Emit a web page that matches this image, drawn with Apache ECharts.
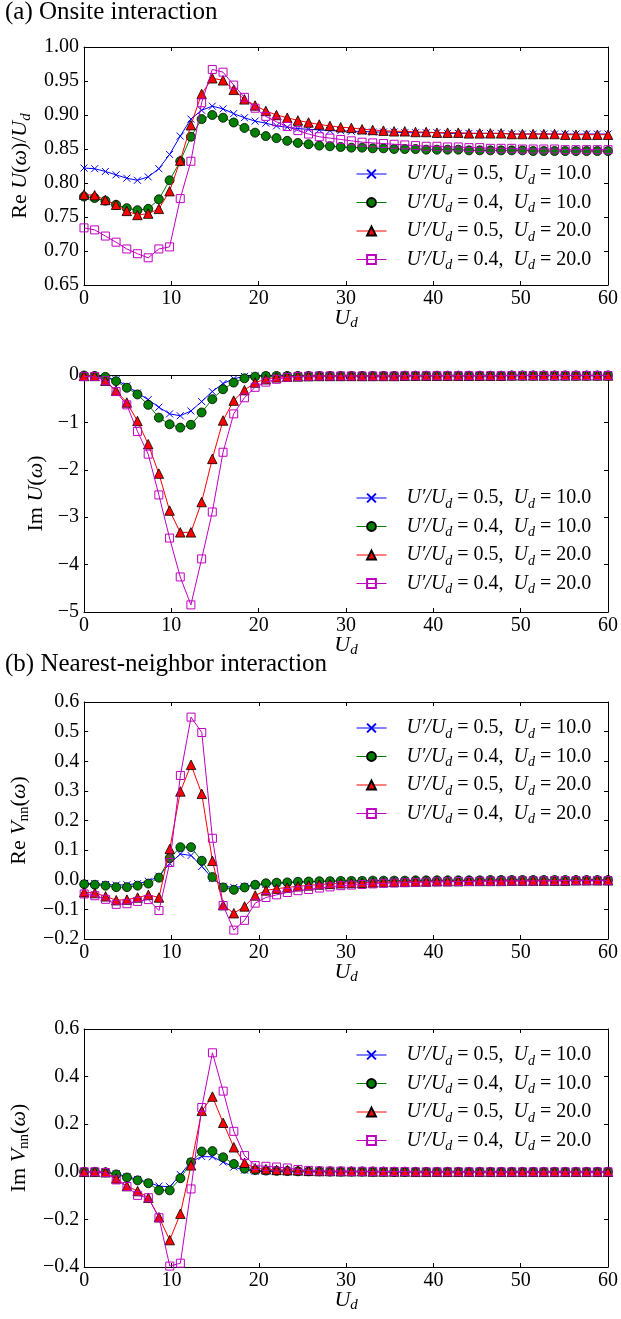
<!DOCTYPE html>
<html>
<head>
<meta charset="utf-8">
<script src="https://cdn.jsdelivr.net/npm/echarts@6/dist/echarts.min.js"></script>
<style>
  html, body { margin: 0; padding: 0; background: #fff; }
  #chart { width: 621px; height: 1319px; }
</style>
</head>
<body>
<div id="chart"></div>
<script>
// Bare onsite energy U_d (x values shared by all panels)
const Ud = [
  0.00, 1.22, 2.45, 3.67, 4.90, 6.12, 7.35, 8.57, 9.80, 11.02,
  12.24, 13.47, 14.69, 15.92, 17.14, 18.37, 19.59, 20.82, 22.04, 23.27,
  24.49, 25.71, 26.94, 28.16, 29.39, 30.61, 31.84, 33.06, 34.29, 35.51,
  36.73, 37.96, 39.18, 40.41, 41.63, 42.86, 44.08, 45.31, 46.53, 47.76,
  48.98, 50.20, 51.43, 52.65, 53.88, 55.10, 56.33, 57.55, 58.78, 60.00
];

// (a) Re U(w)/U_d
const reU_05_10 = [
  0.822, 0.821, 0.817, 0.812, 0.807, 0.804, 0.809, 0.821, 0.842, 0.869,
  0.894, 0.907, 0.913, 0.909, 0.902, 0.896, 0.891, 0.888, 0.884, 0.882,
  0.880, 0.879, 0.878, 0.877, 0.877, 0.876, 0.876, 0.875, 0.875, 0.875,
  0.874, 0.874, 0.874, 0.874, 0.873, 0.873, 0.873, 0.873, 0.873, 0.873,
  0.872, 0.872, 0.872, 0.872, 0.872, 0.872, 0.872, 0.872, 0.872, 0.872
];
const reU_04_10 = [
  0.780, 0.778, 0.774, 0.768, 0.763, 0.760, 0.762, 0.776, 0.804, 0.832,
  0.868, 0.894, 0.900, 0.896, 0.889, 0.881, 0.874, 0.869, 0.866, 0.862,
  0.859, 0.857, 0.855, 0.854, 0.853, 0.852, 0.852, 0.851, 0.851, 0.850,
  0.850, 0.850, 0.849, 0.849, 0.849, 0.849, 0.848, 0.848, 0.848, 0.848,
  0.848, 0.848, 0.847, 0.847, 0.847, 0.847, 0.847, 0.847, 0.847, 0.847
];
const reU_05_20 = [
  0.783, 0.782, 0.775, 0.768, 0.759, 0.753, 0.755, 0.762, 0.788, 0.833,
  0.885, 0.931, 0.954, 0.951, 0.937, 0.923, 0.914, 0.906, 0.900, 0.896,
  0.892, 0.889, 0.886, 0.884, 0.882, 0.881, 0.879, 0.878, 0.877, 0.876,
  0.876, 0.875, 0.875, 0.874, 0.874, 0.874, 0.873, 0.873, 0.873, 0.873,
  0.872, 0.872, 0.872, 0.872, 0.872, 0.871, 0.871, 0.871, 0.871, 0.871
];
const reU_04_20 = [
  0.734, 0.731, 0.722, 0.713, 0.703, 0.696, 0.690, 0.703, 0.706, 0.777,
  0.832, 0.918, 0.967, 0.963, 0.944, 0.926, 0.910, 0.898, 0.890, 0.883,
  0.877, 0.872, 0.868, 0.866, 0.864, 0.862, 0.860, 0.859, 0.858, 0.857,
  0.856, 0.855, 0.854, 0.854, 0.853, 0.853, 0.852, 0.852, 0.851, 0.851,
  0.851, 0.850, 0.850, 0.850, 0.850, 0.849, 0.849, 0.849, 0.849, 0.849
];

// (a) Im U(w)
const imU_05_10 = [
  -0.02, -0.03, -0.05, -0.10, -0.23, -0.38, -0.52, -0.68, -0.82, -0.86,
  -0.76, -0.56, -0.35, -0.18, -0.08, -0.03, -0.02, -0.02, -0.02, -0.02,
  -0.02, -0.02, -0.02, -0.02, -0.02, -0.02, -0.02, -0.02, -0.02, -0.02,
  -0.015, -0.015, -0.015, -0.015, -0.015, -0.015, -0.015, -0.015, -0.015, -0.015,
  -0.01, -0.01, -0.01, -0.01, -0.01, -0.01, -0.01, -0.01, -0.01, -0.01
];
const imU_04_10 = [
  -0.01, -0.02, -0.04, -0.13, -0.27, -0.41, -0.63, -0.90, -1.04, -1.11,
  -1.05, -0.79, -0.51, -0.30, -0.16, -0.07, -0.035, -0.02, -0.02, -0.02,
  -0.02, -0.02, -0.02, -0.02, -0.02, -0.02, -0.02, -0.02, -0.02, -0.02,
  -0.015, -0.015, -0.015, -0.015, -0.015, -0.015, -0.015, -0.015, -0.015, -0.015,
  -0.01, -0.01, -0.01, -0.01, -0.01, -0.01, -0.01, -0.01, -0.01, -0.01
];
const imU_05_20 = [
  -0.02, -0.02, -0.12, -0.33, -0.58, -0.97, -1.46, -2.08, -2.86, -3.32,
  -3.32, -2.68, -1.77, -0.96, -0.54, -0.32, -0.16, -0.09, -0.05, -0.035,
  -0.03, -0.025, -0.02, -0.02, -0.02, -0.02, -0.02, -0.02, -0.02, -0.02,
  -0.015, -0.015, -0.015, -0.015, -0.015, -0.015, -0.015, -0.015, -0.015, -0.015,
  -0.01, -0.01, -0.01, -0.01, -0.01, -0.01, -0.01, -0.01, -0.01, -0.01
];
const imU_04_20 = [
  -0.03, -0.03, -0.12, -0.35, -0.63, -1.19, -1.67, -2.53, -3.44, -4.26,
  -4.85, -3.88, -2.89, -1.63, -0.82, -0.48, -0.26, -0.15, -0.09, -0.05,
  -0.03, -0.025, -0.02, -0.02, -0.02, -0.02, -0.02, -0.02, -0.02, -0.02,
  -0.015, -0.015, -0.015, -0.015, -0.015, -0.015, -0.015, -0.015, -0.015, -0.015,
  -0.01, -0.01, -0.01, -0.01, -0.01, -0.01, -0.01, -0.01, -0.01, -0.01
];

// (b) Re V_nn(w)
const reV_05_10 = [
  -0.012, -0.013, -0.016, -0.018, -0.017, -0.013, -0.005, 0.012, 0.055, 0.087,
  0.082, 0.045, 0.005, -0.022, -0.026, -0.022, -0.018, -0.015, -0.012, -0.010,
  -0.008, -0.007, -0.006, -0.005, -0.005, -0.004, -0.004, -0.004, -0.003, -0.003,
  -0.003, -0.003, -0.002, -0.002, -0.002, -0.002, -0.002, -0.002, -0.001, -0.001,
  -0.001, -0.001, -0.001, -0.001, -0.001, -0.001, -0.001, -0.001, -0.001, -0.001
];
const reV_04_10 = [
  -0.015, -0.017, -0.020, -0.025, -0.025, -0.020, -0.013, 0.007, 0.073, 0.110,
  0.110, 0.064, 0.009, -0.026, -0.034, -0.026, -0.017, -0.012, -0.010, -0.009,
  -0.007, -0.006, -0.005, -0.005, -0.004, -0.004, -0.004, -0.003, -0.003, -0.003,
  -0.003, -0.002, -0.002, -0.002, -0.002, -0.002, -0.002, -0.002, -0.001, -0.001,
  -0.001, -0.001, -0.001, -0.001, -0.001, -0.001, -0.001, -0.001, -0.001, -0.001
];
const reV_05_20 = [
  -0.042, -0.045, -0.056, -0.069, -0.067, -0.060, -0.051, -0.060, 0.104, 0.298,
  0.388, 0.290, 0.064, -0.086, -0.113, -0.090, -0.053, -0.036, -0.030, -0.026,
  -0.022, -0.019, -0.016, -0.014, -0.012, -0.011, -0.010, -0.009, -0.008, -0.007,
  -0.007, -0.006, -0.006, -0.005, -0.005, -0.005, -0.004, -0.004, -0.004, -0.004,
  -0.003, -0.003, -0.003, -0.003, -0.003, -0.003, -0.002, -0.002, -0.002, -0.002
];
const reV_04_20 = [
  -0.048, -0.054, -0.066, -0.083, -0.081, -0.073, -0.067, -0.104, 0.058, 0.352,
  0.549, 0.497, 0.140, -0.087, -0.170, -0.137, -0.079, -0.060, -0.051, -0.043,
  -0.037, -0.033, -0.028, -0.024, -0.020, -0.018, -0.016, -0.014, -0.012, -0.011,
  -0.010, -0.009, -0.008, -0.007, -0.007, -0.006, -0.006, -0.005, -0.005, -0.005,
  -0.004, -0.004, -0.004, -0.004, -0.003, -0.003, -0.003, -0.003, -0.003, -0.003
];

// (b) Im V_nn(w)
const imV_05_10 = [
  0.000, 0.000, -0.002, -0.008, -0.020, -0.032, -0.045, -0.060, -0.063, -0.012,
  0.043, 0.064, 0.063, 0.041, 0.020, 0.007, 0.002, 0.001, 0.001, 0.000,
  0.000, 0.000, 0.000, 0.000, 0.000, 0.000, 0.000, 0.000, 0.000, 0.000,
  0.000, 0.000, 0.000, 0.000, 0.000, 0.000, 0.000, 0.000, 0.000, 0.000,
  0.000, 0.000, 0.000, 0.000, 0.000, 0.000, 0.000, 0.000, 0.000, 0.000
];
const imV_04_10 = [
  0.000, 0.000, -0.002, -0.011, -0.024, -0.036, -0.048, -0.078, -0.078, -0.027,
  0.040, 0.085, 0.087, 0.061, 0.033, 0.013, 0.007, 0.005, 0.004, 0.003,
  0.002, 0.002, 0.002, 0.001, 0.001, 0.001, 0.001, 0.001, 0.001, 0.000,
  0.000, 0.000, 0.000, 0.000, 0.000, 0.000, 0.000, 0.000, 0.000, 0.000,
  0.000, 0.000, 0.000, 0.000, 0.000, 0.000, 0.000, 0.000, 0.000, 0.000
];
const imV_05_20 = [
  0.000, 0.000, -0.002, -0.028, -0.060, -0.081, -0.109, -0.191, -0.287, -0.176,
  0.027, 0.256, 0.316, 0.206, 0.103, 0.038, 0.015, 0.011, 0.008, 0.007,
  0.006, 0.004, 0.003, 0.003, 0.002, 0.002, 0.002, 0.001, 0.001, 0.001,
  0.001, 0.000, 0.000, 0.000, 0.000, 0.000, 0.000, 0.000, 0.000, 0.000,
  0.000, 0.000, 0.000, 0.000, 0.000, 0.000, 0.000, 0.000, 0.000, 0.000
];
const imV_04_20 = [
  0.000, 0.000, -0.003, -0.034, -0.062, -0.099, -0.109, -0.193, -0.396, -0.384,
  -0.072, 0.270, 0.500, 0.339, 0.170, 0.068, 0.026, 0.023, 0.020, 0.016,
  0.010, 0.006, 0.004, 0.003, 0.003, 0.002, 0.002, 0.002, 0.001, 0.001,
  0.001, 0.000, 0.000, 0.000, 0.000, 0.000, 0.000, 0.000, 0.000, 0.000,
  0.000, 0.000, 0.000, 0.000, 0.000, 0.000, 0.000, 0.000, 0.000, 0.000
];

// Axis ranges and tick steps
const xRange = { min: 0, max: 60, interval: 10 };
const yRanges = [
  { min: 0.65, max: 1.00, interval: 0.05, digits: 2 },
  { min: -5, max: 0, interval: 1, digits: 0 },
  { min: -0.2, max: 0.6, interval: 0.1, digits: 1 },
  { min: -0.4, max: 0.6, interval: 0.2, digits: 1 }
];

// Series names and their legend markup
const seriesNames = [
  "U′/Ud = 0.5, Ud = 10.0",
  "U′/Ud = 0.4, Ud = 10.0",
  "U′/Ud = 0.5, Ud = 20.0",
  "U′/Ud = 0.4, Ud = 20.0"
];
const legendMarkup = {
  "U′/Ud = 0.5, Ud = 10.0": "{sp| }{i|U′/U}{s|d}{n| = 0.5,  }{i|U}{s|d}{n| = 10.0}",
  "U′/Ud = 0.4, Ud = 10.0": "{sp| }{i|U′/U}{s|d}{n| = 0.4,  }{i|U}{s|d}{n| = 10.0}",
  "U′/Ud = 0.5, Ud = 20.0": "{sp| }{i|U′/U}{s|d}{n| = 0.5,  }{i|U}{s|d}{n| = 20.0}",
  "U′/Ud = 0.4, Ud = 20.0": "{sp| }{i|U′/U}{s|d}{n| = 0.4,  }{i|U}{s|d}{n| = 20.0}"
};
const yNames = [
  "{n|Re }{i|U}{n|(}{i|ω}{n|)/}{i|U}{s|d}",
  "{n|Im }{i|U}{n|(}{i|ω}{n|)}",
  "{n|Re }{i|V}{sr|nn}{n|(}{i|ω}{n|)}",
  "{n|Im }{i|V}{sr|nn}{n|(}{i|ω}{n|)}"
];
const panelData = [
  [reU_05_10, reU_04_10, reU_05_20, reU_04_20],
  [imU_05_10, imU_04_10, imU_05_20, imU_04_20],
  [reV_05_10, reV_04_10, reV_05_20, reV_04_20],
  [imV_05_10, imV_04_10, imV_05_20, imV_04_20]
];

// ---- layout & styling ----
const FONT = "Liberation Serif";
const plotLeft = 84, plotWidth = 621 - 84 - 11;
const panels = [
  { top: 47, height: 238, legendTop: 164, nameGap: 41 },
  { top: 375, height: 237, legendTop: 488, nameGap: 34 },
  { top: 702, height: 237, legendTop: 718, nameGap: 51 },
  { top: 1029, height: 238, legendTop: 1045, nameGap: 51 }
];

const rich = {
  n: { fontFamily: FONT, fontSize: 20, lineHeight: 26, color: "#000" },
  i: { fontFamily: FONT, fontSize: 20, fontStyle: "italic", lineHeight: 26, color: "#000" },
  s: { fontFamily: FONT, fontSize: 14, fontStyle: "italic", lineHeight: 14, verticalAlign: "bottom", color: "#000" },
  sr: { fontFamily: FONT, fontSize: 14, lineHeight: 14, verticalAlign: "bottom", color: "#000" },
  sp: { fontFamily: FONT, fontSize: 20, width: 15, lineHeight: 26 }
};
const richName = {
  n: Object.assign({}, rich.n, { fontSize: 22 }),
  i: Object.assign({}, rich.i, { fontSize: 22 }),
  s: Object.assign({}, rich.s, { fontSize: 15, lineHeight: 15 }),
  sr: Object.assign({}, rich.sr, { fontSize: 15, lineHeight: 15 })
};

const markers = [
  { color: "#0000ff", symbol: "path://M0,0L10,10M10,0L0,10", size: 7,
    item: { color: "#0000ff", borderColor: "#0000ff", borderWidth: 1 } },
  { color: "#008000", symbol: "circle", size: 9,
    item: { color: "#008000", borderColor: "#000000", borderWidth: 0.8 } },
  { color: "#ff0000", symbol: "triangle", size: 9.5,
    item: { color: "#ff0000", borderColor: "#000000", borderWidth: 0.8 } },
  { color: "#bf00bf", symbol: "rect", size: 8,
    item: { color: "rgba(255,255,255,0)", borderColor: "#bf00bf", borderWidth: 1 } }
];

function tickText(v, digits) {
  const s = Math.abs(v) < 1e-9 ? (0).toFixed(digits) : v.toFixed(digits);
  return s.replace("-", "−");
}

const grid = [], xAxis = [], yAxis = [], series = [], legend = [];
const axisLine = { show: true, onZero: false, lineStyle: { color: "#000", width: 1 } };
const axisTick = { show: true, inside: true, length: 4, lineStyle: { color: "#000", width: 1 } };

panels.forEach((p, gi) => {
  grid.push({ left: plotLeft, top: p.top, width: plotWidth, height: p.height });
  const yr = yRanges[gi];
  // bottom x axis with labels and name
  xAxis.push({
    type: "value", gridIndex: gi, position: "bottom",
    min: xRange.min, max: xRange.max, interval: xRange.interval,
    axisLine, axisTick, splitLine: { show: false },
    axisLabel: { show: true, margin: 4, fontFamily: FONT, fontSize: 20, color: "#000",
                 showMinLabel: true, showMaxLabel: true },
    name: "{i|U}{s|d}", nameLocation: "middle", nameGap: 20, nameMoveOverlap: false,
    nameTextStyle: { rich: richName }
  });
  // top x axis: ticks only
  xAxis.push({
    type: "value", gridIndex: gi, position: "top",
    min: xRange.min, max: xRange.max, interval: xRange.interval,
    axisLine, axisTick, splitLine: { show: false }, axisLabel: { show: false }
  });
  // left y axis with labels and name
  yAxis.push({
    type: "value", gridIndex: gi, position: "left",
    min: yr.min, max: yr.max, interval: yr.interval,
    axisLine, axisTick, splitLine: { show: false },
    axisLabel: { show: true, margin: 5, fontFamily: FONT, fontSize: 20, color: "#000",
                 showMinLabel: true, showMaxLabel: true,
                 formatter: v => tickText(v, yr.digits) },
    name: yNames[gi], nameLocation: "middle", nameRotate: 90, nameGap: p.nameGap,
    nameTextStyle: { rich: richName }
  });
  // right y axis: ticks only
  yAxis.push({
    type: "value", gridIndex: gi, position: "right",
    min: yr.min, max: yr.max, interval: yr.interval,
    axisLine, axisTick, splitLine: { show: false }, axisLabel: { show: false }
  });

  panelData[gi].forEach((ys, si) => {
    const m = markers[si];
    series.push({
      type: "line", name: seriesNames[si],
      xAxisIndex: gi * 2, yAxisIndex: gi * 2,
      data: Ud.map((x, k) => [x, ys[k]]),
      symbol: m.symbol, symbolSize: m.size, showSymbol: true,
      lineStyle: { color: m.color, width: 1 },
      itemStyle: m.item,
      emphasis: { disabled: true },
      animation: false, z: 2 + si
    });
  });

  legend.push({
    orient: "vertical", left: 356, top: p.legendTop, padding: 0,
    itemWidth: 30, itemHeight: 11, itemGap: 5.5,
    selectedMode: false,
    lineStyle: { width: 1 },
    data: seriesNames,
    formatter: name => legendMarkup[name],
    textStyle: { rich }
  });
});

const chart = echarts.init(document.getElementById("chart"), null, { renderer: "canvas" });
chart.setOption({
  backgroundColor: "#ffffff",
  animation: false,
  title: [
    { text: "(a) Onsite interaction", left: 5, top: 0, padding: 0,
      textStyle: { fontFamily: FONT, fontSize: 25, fontWeight: "normal", color: "#000" } },
    { text: "(b) Nearest-neighbor interaction", left: 5, top: 652, padding: 0,
      textStyle: { fontFamily: FONT, fontSize: 25, fontWeight: "normal", color: "#000" } }
  ],
  grid, xAxis, yAxis, series, legend
});
</script>
</body>
</html>
